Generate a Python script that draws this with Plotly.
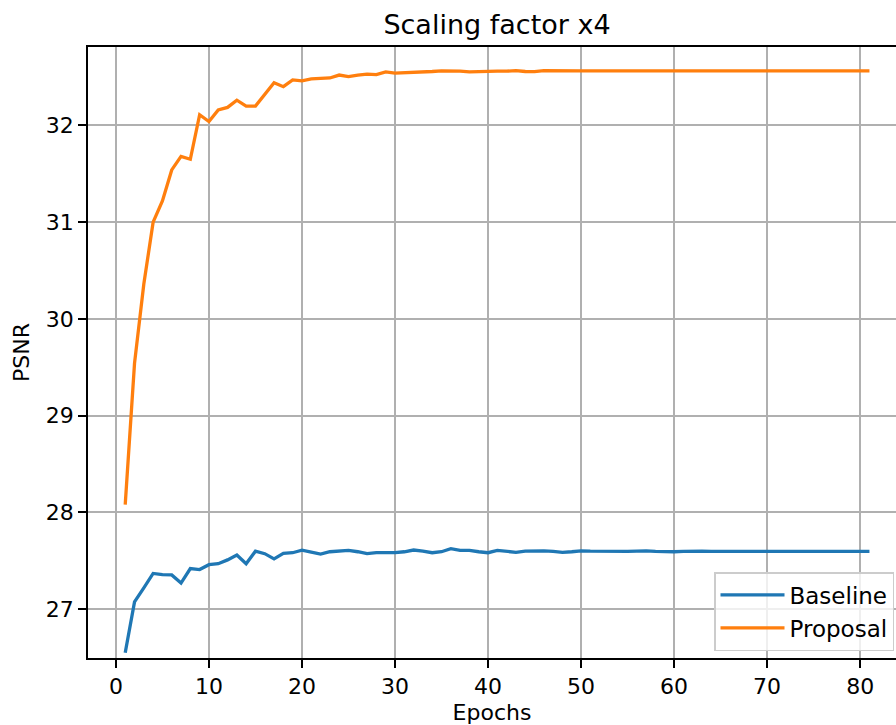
import plotly.graph_objects as go

epochs = list(range(1, 82))

baseline = [
    26.55, 27.076, 27.22, 27.37, 27.357, 27.354, 27.27, 27.42, 27.41, 27.46,
    27.47, 27.51, 27.56, 27.47, 27.60, 27.574, 27.52, 27.577, 27.584, 27.61,
    27.59, 27.57, 27.594, 27.605, 27.608, 27.594, 27.574, 27.584, 27.584, 27.584,
    27.594, 27.612, 27.601, 27.584, 27.594, 27.625, 27.608, 27.608, 27.594, 27.584,
    27.608, 27.601, 27.588, 27.601, 27.604, 27.604, 27.598, 27.588, 27.594, 27.604,
    27.601, 27.600, 27.594, 27.594, 27.598, 27.601, 27.604, 27.598, 27.592, 27.594,
    27.598, 27.601, 27.600, 27.598, 27.598, 27.598, 27.596, 27.598, 27.598, 27.598,
    27.598, 27.598, 27.597, 27.598, 27.598, 27.598, 27.598, 27.598, 27.598, 27.598,
    27.598,
]

proposal = [
    28.08, 29.54, 30.36, 31.00, 31.22, 31.54, 31.68, 31.65, 32.11, 32.04,
    32.16, 32.186, 32.26, 32.20, 32.20, 32.32, 32.44, 32.40, 32.47, 32.46,
    32.48, 32.485, 32.49, 32.52, 32.505, 32.52, 32.53, 32.525, 32.553, 32.54,
    32.543, 32.55, 32.553, 32.557, 32.564, 32.564, 32.56, 32.553, 32.557, 32.557,
    32.56, 32.56, 32.566, 32.557, 32.555, 32.565, 32.563, 32.563, 32.564, 32.564,
    32.564, 32.564, 32.564, 32.564, 32.564, 32.564, 32.564, 32.564, 32.564, 32.564,
    32.564, 32.564, 32.564, 32.564, 32.564, 32.564, 32.564, 32.564, 32.564, 32.564,
    32.564, 32.564, 32.564, 32.564, 32.564, 32.564, 32.564, 32.564, 32.564, 32.564,
    32.564,
]

x_ticks = [0, 10, 20, 30, 40, 50, 60, 70, 80]
y_ticks = [27, 28, 29, 30, 31, 32]

FONT = "DejaVu Sans"
fs = 22

fig = go.Figure()
fig.add_trace(go.Scatter(x=epochs, y=baseline, mode="lines", name="Baseline",
                         line=dict(color="#1f77b4", width=3.3)))
fig.add_trace(go.Scatter(x=epochs, y=proposal, mode="lines", name="Proposal",
                         line=dict(color="#ff7f0e", width=3.3)))

axis_common = dict(
    showgrid=True, gridcolor="#b0b0b0", gridwidth=1.8,
    zeroline=False, showline=True, linecolor="black", linewidth=1.8,
    ticks="outside", ticklen=8, tickwidth=1.8, tickcolor="black",
    tickfont=dict(family=FONT, size=fs, color="black"),
)

fig.update_layout(
    width=896, height=725,
    margin=dict(l=88, r=0, t=47, b=67),
    paper_bgcolor="white", plot_bgcolor="white",
    font=dict(family=FONT, size=fs, color="black"),
    title=dict(text="Scaling factor x4", font=dict(family=FONT, size=27, color="black"),
               x=(497 - 88) / 808, xref="paper", xanchor="center",
               y=1 - 25 / 725, yref="container", yanchor="middle"),
    xaxis=dict(range=[-3, -3 + 808 / 9.303], tickvals=x_ticks, mirror=True,
               title=dict(text="Epochs", font=dict(family=FONT, size=fs, color="black"), standoff=7),
               **axis_common),
    yaxis=dict(range=[26.496, 32.81], tickvals=y_ticks, mirror=False,
               title=dict(text="PSNR", font=dict(family=FONT, size=fs, color="black"), standoff=10),
               **axis_common),
    legend=dict(x=(714 - 88) / 808, y=(725 - 67 - 572) / 611, xanchor="left", yanchor="top",
                bgcolor="rgba(255,255,255,0.8)", bordercolor="#cccccc", borderwidth=1.5,
                itemwidth=64,
                font=dict(family=FONT, size=fs + 1, color="black")),
    showlegend=True,
)

fig.write_html("out.html")
